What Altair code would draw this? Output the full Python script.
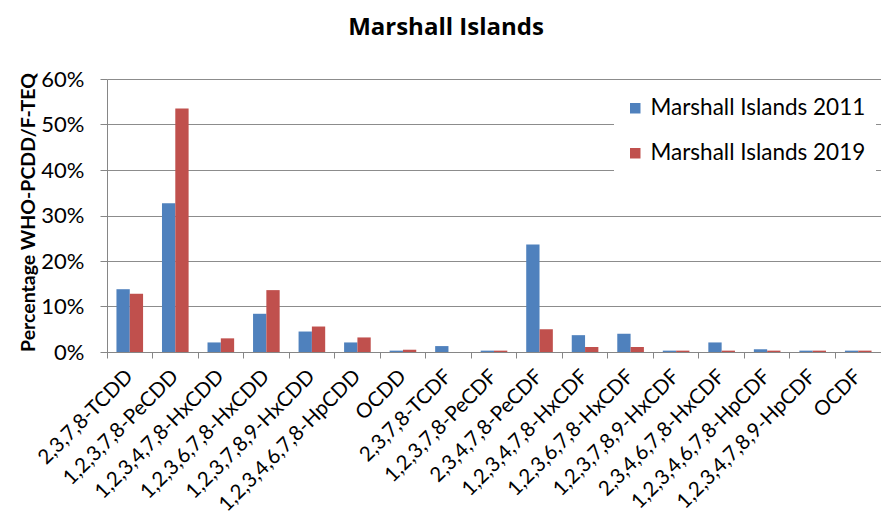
import altair as alt
import pandas as pd

categories = [
    "2,3,7,8-TCDD", "1,2,3,7,8-PeCDD", "1,2,3,4,7,8-HxCDD", "1,2,3,6,7,8-HxCDD",
    "1,2,3,7,8,9-HxCDD", "1,2,3,4,6,7,8-HpCDD", "OCDD", "2,3,7,8-TCDF",
    "1,2,3,7,8-PeCDF", "2,3,4,7,8-PeCDF", "1,2,3,4,7,8-HxCDF", "1,2,3,6,7,8-HxCDF",
    "1,2,3,7,8,9-HxCDF", "2,3,4,6,7,8-HxCDF", "1,2,3,4,6,7,8-HpCDF",
    "1,2,3,4,7,8,9-HpCDF", "OCDF",
]
series = ["Marshall Islands 2011", "Marshall Islands 2019"]
values_2011 = [13.8, 32.7, 2.1, 8.4, 4.5, 2.1, 0.3, 1.3, 0.3, 23.6, 3.7, 4.0, 0.3, 2.1, 0.6, 0.3, 0.3]
values_2019 = [12.8, 53.5, 3.0, 13.6, 5.6, 3.2, 0.5, 0.0, 0.3, 5.0, 1.1, 1.1, 0.3, 0.3, 0.3, 0.3, 0.3]
colors = ["#4F81BD", "#C0504D"]
y_ticks = [0, 0.1, 0.2, 0.3, 0.4, 0.5, 0.6]

rows = []
for c, a, b in zip(categories, values_2011, values_2019):
    rows.append({"compound": c, "series": series[0], "value": a / 100})
    rows.append({"compound": c, "series": series[1], "value": b / 100})
df = pd.DataFrame(rows)

W, H = 774, 273
FONT = "Lato"

chart = alt.Chart(df).mark_bar().encode(
    x=alt.X(
        "compound:N", sort=categories, title=None,
        scale=alt.Scale(paddingInner=0, paddingOuter=0),
        axis=alt.Axis(
            bandPosition=0, labelAngle=-45,
            labelAlign="right", labelBaseline="middle",
            labelFontSize=20.5, labelFont=FONT, labelColor="#000000",
            tickSize=6, tickColor="#868686", domainColor="#868686",
            labelPadding=15, labelOverlap=False, labelLimit=0,
        ),
    ),
    xOffset=alt.XOffset(
        "series:N", sort=series,
        scale=alt.Scale(paddingInner=0, paddingOuter=0.71),
    ),
    y=alt.Y(
        "value:Q", title="Percentage WHO-PCDD/F-TEQ",
        scale=alt.Scale(domain=[0, 0.6], nice=False),
        axis=alt.Axis(
            values=y_ticks, format=".0%", grid=True, gridColor="#8c8c8c",
            tickSize=7, tickColor="#868686", domainColor="#868686",
            labelFontSize=22, labelFont=FONT, labelColor="#000000",
            labelPadding=16,
            titleFont=FONT, titleFontSize=19.5, titleFontWeight="bold",
            titleColor="#000000", titleX=-79, titleY=133,
            titleAlign="center", titleBaseline="middle", titleAngle=-90,
        ),
    ),
    color=alt.Color(
        "series:N", sort=series,
        scale=alt.Scale(domain=series, range=colors),
        legend=alt.Legend(
            title=None, orient="none", legendX=507, legendY=8,
            fillColor="#ffffff", padding=10, symbolType="square",
            symbolSize=110, symbolStrokeWidth=0, labelFont=FONT,
            labelFontSize=22.5, labelColor="#000000", rowPadding=22,
            labelLimit=400, symbolOpacity=1,
        ),
    ),
).properties(
    width=W, height=H,
    title=alt.TitleParams(
        "Marshall Islands", font="Open Sans", fontSize=24, fontWeight="bold",
        color="#000000", anchor="middle", dx=-48, offset=28,
    ),
    autosize=alt.AutoSizeParams(type="none"),
    padding={"left": 99, "top": 71, "right": 0, "bottom": 163},
).configure_view(stroke=None)

chart.save("out.html", embed_options={"renderer": "svg", "actions": False})
